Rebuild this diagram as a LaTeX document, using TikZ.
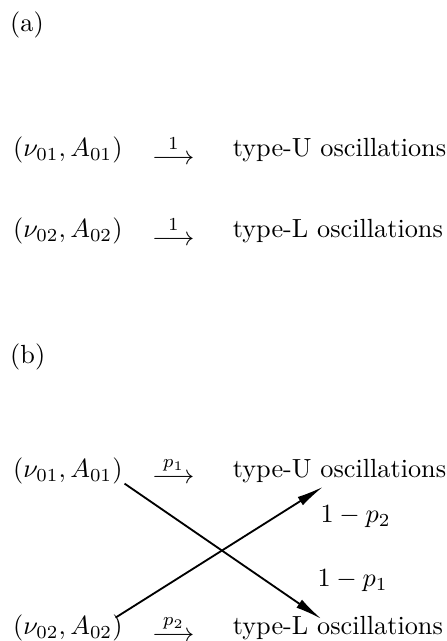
\documentclass[tikz,border=0pt]{standalone}
\usepackage{tikz}
\usetikzlibrary{positioning, arrows.meta}

\begin{document}
\begin{tikzpicture}[
  src/.style={anchor=west, inner sep=2pt},
  dst/.style={anchor=west, inner sep=2pt},
  tag/.style={anchor=west, inner sep=0pt},
  arr/.style={-{Latex[length=3.6mm, width=1.3mm]}, line width=0.7pt}
]
  \useasboundingbox (0,0) rectangle (5.97,-8.58);

  % Panel (a)
  \node[tag] (taga) at (0.13,-0.33) {(a)};

  \node[src] (s1a) at (0.10,-2.01) {$(\nu_{01}, A_{01})$};
  \node (ar1a) at (2.32,-2.01) {$\stackrel{1}{\longrightarrow}$};
  \node[dst] (ua) at (3.04,-2.01) {type-U oscillations};

  \node[src] (s2a) at (0.10,-3.09) {$(\nu_{02}, A_{02})$};
  \node (ar2a) at (2.32,-3.09) {$\stackrel{1}{\longrightarrow}$};
  \node[dst] (la) at (3.04,-3.09) {type-L oscillations};

  % Panel (b)
  \node[tag] (tagb) at (0.13,-4.78) {(b)};

  \node[src] (s1b) at (0.10,-6.30) {$(\nu_{01}, A_{01})$};
  \node (ar1b) at (2.32,-6.30) {$\stackrel{p_1}{\longrightarrow}$};
  \node[dst] (ub) at (3.04,-6.30) {type-U oscillations};

  \node[src] (s2b) at (0.10,-8.41) {$(\nu_{02}, A_{02})$};
  \node (ar2b) at (2.32,-8.41) {$\stackrel{p_2}{\longrightarrow}$};
  \node[dst] (lb) at (3.04,-8.41) {type-L oscillations};

  \draw[arr] ([xshift=-0.05cm, yshift=0.08cm]s1b.south east) -- ([xshift=-0.22cm, yshift=-0.11cm]lb.north);
  \draw[arr] ([xshift=-0.17cm, yshift=-0.11cm]s2b.north east) -- ([xshift=-0.22cm, yshift=0.02cm]ub.south);

  \node (q2) at (4.76,-6.92) {$1-p_2$};
  \node (q1) at (4.72,-7.77) {$1-p_1$};

\end{tikzpicture}
\end{document}
